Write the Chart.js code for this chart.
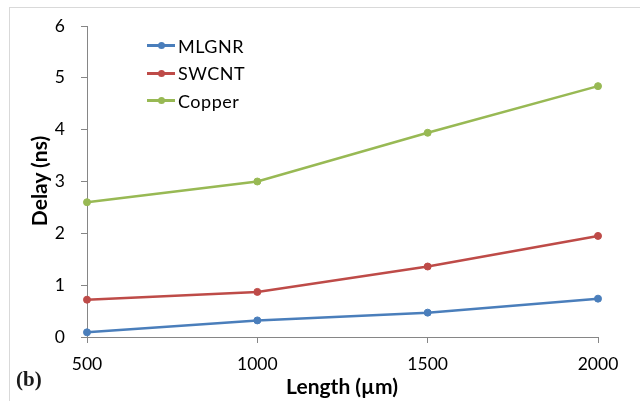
<!DOCTYPE html>
<html>
<head>
<meta charset="utf-8">
<script src="https://cdn.jsdelivr.net/npm/chart.js@4"></script>
<style>
html, body { margin: 0; padding: 0; background: #fff; }
#wrap { position: relative; width: 640px; height: 401px; overflow: hidden; font-family: Lato, sans-serif; }
#frame { position: absolute; left: 9px; top: 7px; right: 0; bottom: 0; border-top: 1px solid #d9d9d9; border-left: 1px solid #d9d9d9; }
#chart { position: absolute; left: 0; top: 0; }
#tag { position: absolute; left: 16px; top: 367px; font: bold 21px "Liberation Serif", serif; color: #1b1b1b; }
#legend { position: absolute; left: 147px; top: 32px; }
.item { height: 27.5px; display: flex; align-items: center; font-size: 18px; color: #000; letter-spacing: 0.5px; }
.sample { position: relative; width: 28px; height: 3px; margin-right: 3px; }
.sample i { position: absolute; left: 10.5px; top: -2px; width: 7px; height: 7px; border-radius: 50%; }
.axtitle { position: absolute; font: bold 21px Lato, sans-serif; color: #000; white-space: nowrap; line-height: 24px; }
#xtitle { left: 342px; top: 386px; transform: translate(-50%, -50%); }
#ytitle { left: 39px; top: 181px; transform: translate(-50%, -50%) rotate(-90deg); }
</style>
</head>
<body>
<div id="wrap">
  <div id="frame"></div>
  <canvas id="chart" width="640" height="401"></canvas>
  <div id="legend"></div>
  <div id="xtitle" class="axtitle"></div>
  <div id="ytitle" class="axtitle"></div>
  <div id="tag">(b)</div>
</div>
<script>
// data
var lengths = ['500', '1000', '1500', '2000'];
var mlgnr = [0.09, 0.32, 0.47, 0.74];
var swcnt = [0.72, 0.87, 1.36, 1.95];
var copper = [2.6, 3.0, 3.94, 4.84];
var seriesNames = ['MLGNR', 'SWCNT', 'Copper'];
var seriesColors = ['#4a7ebb', '#be4b48', '#98b954'];
var yMin = 0, yMax = 6, yStep = 1;
var xTitle = 'Length (µm)';
var yTitle = 'Delay (ns)';

var axisColor = '#868686';
var tickFont = { family: 'Lato', size: 17.5 };

var datasets = [mlgnr, swcnt, copper].map(function (vals, i) {
    return {
        label: seriesNames[i],
        data: vals,
        borderColor: seriesColors[i],
        backgroundColor: seriesColors[i],
        pointBackgroundColor: seriesColors[i],
        pointBorderColor: seriesColors[i],
        borderWidth: 2.5,
        pointRadius: 3.5,
        pointBorderWidth: 1,
        tension: 0
    };
});

var ctx = document.getElementById('chart').getContext('2d');
var delayChart = new Chart(ctx, {
    type: 'line',
    data: { labels: lengths, datasets: datasets },
    options: {
        responsive: false,
        animation: false,
        layout: { padding: { left: 30, top: 26, right: 42, bottom: 6 } },
        plugins: { legend: { display: false }, tooltip: { enabled: false } },
        scales: {
            x: {
                type: 'category',
                offset: false,
                grid: { display: true, drawOnChartArea: false, drawTicks: true, tickLength: 6, color: axisColor },
                border: { display: true, color: axisColor, width: 1 },
                ticks: { padding: 11, font: tickFont, color: '#000', maxRotation: 0 },
                afterFit: function (s) { s.height = 58; s.paddingLeft = 0; s.paddingRight = 0; }
            },
            y: {
                min: yMin,
                max: yMax,
                grid: { display: true, drawOnChartArea: false, drawTicks: true, tickLength: 6, color: axisColor },
                border: { display: true, color: axisColor, width: 1 },
                ticks: { stepSize: yStep, padding: 16, font: tickFont, color: '#000' },
                afterFit: function (s) { s.width = 57; s.paddingTop = 0; s.paddingBottom = 0; }
            }
        }
    }
});

document.getElementById('xtitle').textContent = xTitle;
document.getElementById('ytitle').textContent = yTitle;

// legend: line with marker, like the spreadsheet one
var legendBox = document.getElementById('legend');
seriesNames.forEach(function (name, i) {
    var row = document.createElement('div');
    row.className = 'item';
    var sample = document.createElement('span');
    sample.className = 'sample';
    sample.style.background = seriesColors[i];
    var dot = document.createElement('i');
    dot.style.background = seriesColors[i];
    sample.appendChild(dot);
    row.appendChild(sample);
    row.appendChild(document.createTextNode(name));
    legendBox.appendChild(row);
});
</script>
</body>
</html>
